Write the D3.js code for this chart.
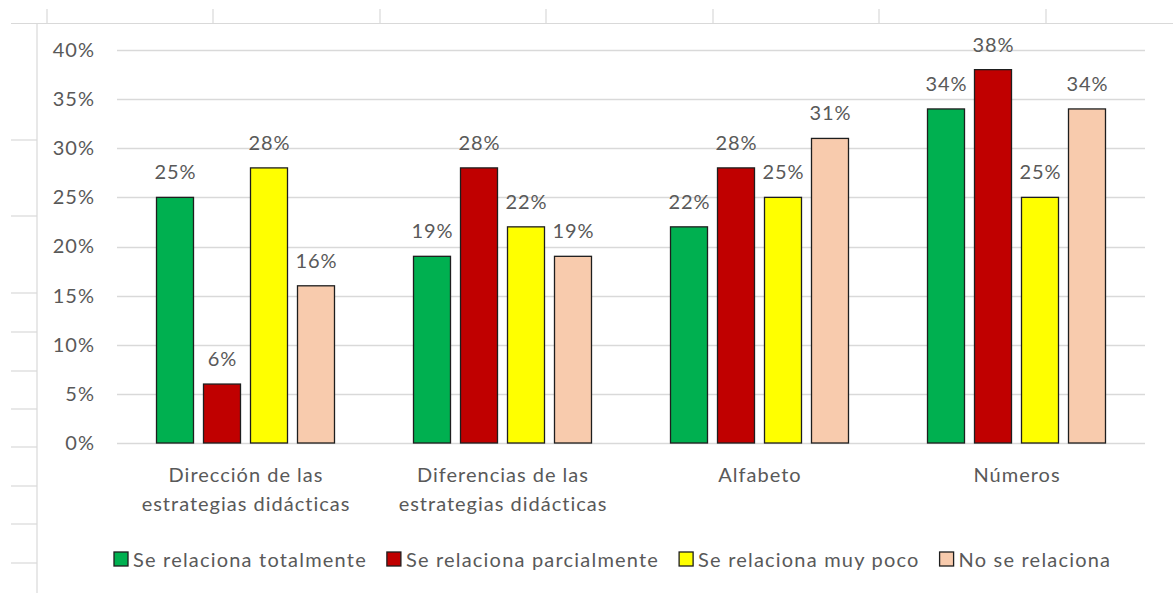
<!DOCTYPE html>
<html>
<head>
<meta charset="utf-8">
<script src="https://cdn.jsdelivr.net/npm/d3@7"></script>
<style>
  html, body { margin: 0; padding: 0; background: #fff; }
  svg { display: block; }
  text { font-family: Lato, "Open Sans", sans-serif; fill: #595959; letter-spacing: 1px; }
  .legend text { letter-spacing: 1.2px; }
</style>
</head>
<body>
<svg id="chart" width="1173" height="593"></svg>
<script>
// ---- data ----
const categories = ["Dirección de las estrategias didácticas", "Diferencias de las estrategias didácticas", "Alfabeto", "Números"];
const categoryLines = [["Dirección de las", "estrategias didácticas"], ["Diferencias de las", "estrategias didácticas"], ["Alfabeto"], ["Números"]];
const seriesNames = ["Se relaciona totalmente", "Se relaciona parcialmente", "Se relaciona muy poco", "No se relaciona"];
const totalmente = [0.25, 0.19, 0.22, 0.34];
const parcialmente = [0.06, 0.28, 0.28, 0.38];
const muyPoco = [0.28, 0.22, 0.25, 0.25];
const noRelaciona = [0.16, 0.19, 0.31, 0.34];
const seriesColors = ["#00B050", "#C00000", "#FFFF00", "#F8CBAD"];
const yTicks = [0, 0.05, 0.10, 0.15, 0.20, 0.25, 0.30, 0.35, 0.40];

const seriesValues = [totalmente, parcialmente, muyPoco, noRelaciona];
const rows = [];
categories.forEach((c, ci) => seriesNames.forEach((s, si) => rows.push({ cat: c, ser: s, si, value: seriesValues[si][ci] })));

// ---- layout ----
const svg = d3.select("#chart");
const FS = 20;
const plotLeft = 117, plotRight = 1145, plotTop = 50, plotBottom = 443;

// spreadsheet background lines (decorative)
const grid = svg.append("g").attr("stroke", "#d9d9d9").attr("stroke-width", 1.2);
[47, 213, 380, 546, 713, 879, 1046].forEach(x =>
  grid.append("line").attr("x1", x).attr("x2", x).attr("y1", 9).attr("y2", 23));
[140, 216, 293, 332, 371, 409, 447, 486, 524, 563].forEach(y =>
  grid.append("line").attr("x1", 11).attr("x2", 37).attr("y1", y).attr("y2", y));
grid.append("line").attr("x1", 11).attr("x2", 1173).attr("y1", 23.5).attr("y2", 23.5);
grid.append("line").attr("x1", 37).attr("x2", 37).attr("y1", 23).attr("y2", 593);

const x0 = d3.scaleBand().domain(categories).range([plotLeft, plotRight]).paddingInner(0.2685).paddingOuter(0.13425);
const x1 = d3.scaleBand().domain(seriesNames).range([0, x0.bandwidth()]).paddingInner(0.2128).paddingOuter(0.1064);
const y = d3.scaleLinear().domain([0, 0.4]).range([plotBottom, plotTop]);
const color = d3.scaleOrdinal().domain(seriesNames).range(seriesColors);

// gridlines
svg.append("g").selectAll("line").data(yTicks).join("line")
  .attr("x1", plotLeft).attr("x2", plotRight)
  .attr("y1", d => Math.round(y(d)) + 0.5).attr("y2", d => Math.round(y(d)) + 0.5)
  .attr("stroke", "#d9d9d9").attr("stroke-width", 1.3);

// y axis labels
const yAxis = d3.axisLeft(y).tickValues(yTicks).tickFormat(d3.format(".0%")).tickSize(0).tickPadding(0);
const yg = svg.append("g").attr("transform", "translate(95,0)").call(yAxis);
yg.select(".domain").remove();
yg.selectAll("text").style("font-size", FS + "px").attr("fill", "#595959").style("font-family", "Lato, sans-serif");

// bars
const bars = svg.append("g");
bars.selectAll("rect").data(rows).join("rect")
  .attr("x", d => x0(d.cat) + x1(d.ser))
  .attr("y", d => y(d.value))
  .attr("width", x1.bandwidth())
  .attr("height", d => y(0) - y(d.value))
  .attr("fill", d => color(d.ser))
  .attr("stroke", "#1e1e1e").attr("stroke-width", 1.3);

// data labels
svg.append("g").selectAll("text").data(rows).join("text")
  .attr("x", d => x0(d.cat) + x1(d.ser) + x1.bandwidth() / 2 + 0.5)
  .attr("y", d => y(d.value) - 18)
  .attr("text-anchor", "middle")
  .style("font-size", FS + "px")
  .text(d => d3.format(".0%")(d.value));

// category labels
const catG = svg.append("g").selectAll("text").data(categories).join("text")
  .attr("text-anchor", "middle")
  .attr("x", d => x0(d) + x0.bandwidth() / 2)
  .attr("y", 482)
  .style("font-size", FS + "px");
catG.each(function(d, i) {
  d3.select(this).selectAll("tspan").data(categoryLines[i]).join("tspan")
    .attr("x", x0(d) + x0.bandwidth() / 2 + 0.5)
    .attr("dy", (l, j) => j === 0 ? 0 : 29)
    .text(l => l);
});

// legend
const legend = svg.append("g").attr("class", "legend");
let lx = 114;
seriesNames.forEach((s, i) => {
  legend.append("rect").attr("x", lx).attr("y", 552).attr("width", 14).attr("height", 14)
    .attr("fill", color(s)).attr("stroke", "#1e1e1e").attr("stroke-width", 1.3);
  const t = legend.append("text").attr("x", lx + 19).attr("y", 559).attr("dominant-baseline", "central")
    .style("font-size", FS + "px").text(s);
  lx = lx + 19 + t.node().getComputedTextLength() + 20;
});
</script>
</body>
</html>
